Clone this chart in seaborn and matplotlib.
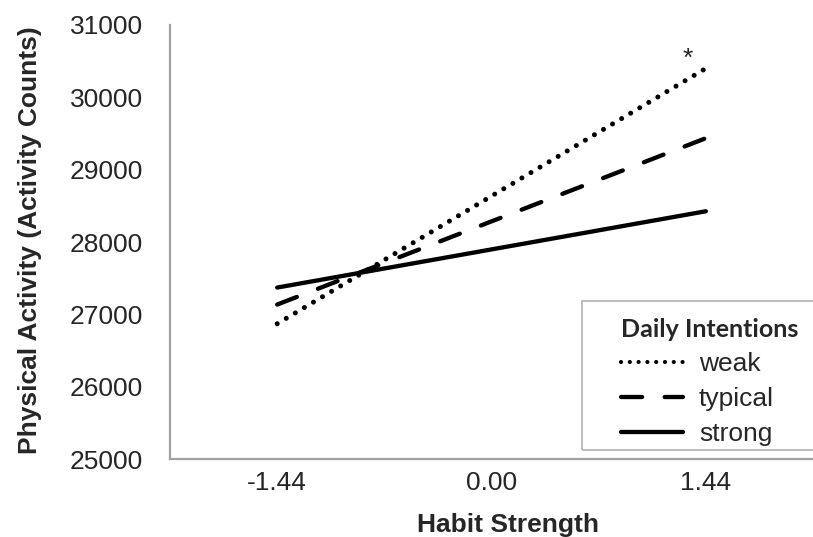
import matplotlib
matplotlib.use("Agg")
import matplotlib.pyplot as plt
from matplotlib.patches import Rectangle
import seaborn as sns
import pandas as pd

# ---- data ----
habit_levels = [-1.44, 1.44]
x_tick_values = [-1.44, 0.00, 1.44]
x_tick_labels = ["-1.44", "0.00", "1.44"]
intentions = ["weak", "typical", "strong"]
weak = [26870, 30400]
typical = [27135, 29435]
strong = [27370, 28425]
y_ticks = [25000, 26000, 27000, 28000, 29000, 30000, 31000]

rows = []
for name, vals in zip(intentions, [weak, typical, strong]):
    for hx, v in zip(habit_levels, vals):
        rows.append({"Habit Strength": hx, "Activity": v, "Intention": name})
df = pd.DataFrame(rows)

sns.set_theme(style="white")
plt.rcParams["font.family"] = ["Liberation Sans", "DejaVu Sans"]

W, H = 813, 537
fig = plt.figure(figsize=(W / 100, H / 100), dpi=100)
ax = fig.add_axes([170 / W, 1 - 459 / H, (W - 170) / W, (459 - 25) / H])

dash_map = {"weak": (0.01, 2.1), "typical": (4.9, 5.25), "strong": ""}
sns.lineplot(data=df, x="Habit Strength", y="Activity", style="Intention",
             style_order=intentions, dashes=dash_map, color="black",
             linewidth=3.1, dash_capstyle="round", solid_capstyle="round",
             legend=False, ax=ax)
ax.lines[0].set_linewidth(3.6)

ax.set_xlim(-2.16, 2.16)
ax.set_ylim(25000, 31000)
ax.set_yticks(y_ticks)
ax.set_yticklabels([str(t) for t in y_ticks])
ax.set_xticks(x_tick_values)
ax.set_xticklabels(x_tick_labels)

for s in ["top", "right"]:
    ax.spines[s].set_visible(False)
for s in ["left", "bottom"]:
    ax.spines[s].set_color("#a0a0a0")
    ax.spines[s].set_linewidth(1.6)

ax.tick_params(axis="y", length=0, pad=19.5, labelsize=19, labelcolor="#262626")
ax.tick_params(axis="x", length=0, pad=9, labelsize=19, labelcolor="#262626")

ax.set_ylabel("Physical Activity (Activity Counts)", fontsize=19,
              fontweight="bold", color="#262626")
ax.yaxis.set_label_coords(-0.199, 0.505)
ax.set_xlabel("Habit Strength", fontsize=19, fontweight="bold",
              color="#262626", va="baseline")
ax.xaxis.set_label_coords(0.526, -0.168)

# significance marker
ax.annotate("*", xy=(habit_levels[1], weak[1]), xytext=(-13, 1.5),
            textcoords="offset points", ha="center", va="baseline",
            fontsize=19, color="#262626")

leg = ax.legend(ax.lines[:3], intentions, title="Daily Intentions",
                loc="upper left", bbox_to_anchor=(621 / W, 1 - 318 / H),
                bbox_transform=fig.transFigure, fontsize=19,
                frameon=False, handlelength=2.35,
                handletextpad=0.6, labelspacing=0.42, borderpad=0.0,
                borderaxespad=0)
leg.get_title().set_fontfamily("Lato")
leg.get_title().set_fontweight("bold")
leg.get_title().set_fontsize(18)
leg._legend_box.align = "left"
for t in leg.get_texts():
    t.set_color("#262626")
leg.get_lines()[0].set_linewidth(3.0)

# legend frame (runs off the right edge as in the original)
fig.patches.append(Rectangle((582 / W, 1 - 450 / H), 0.5, 149 / H,
                             transform=fig.transFigure, fill=False,
                             edgecolor="#b0b0b0", linewidth=1.2, zorder=1))

fig.savefig("out.png", dpi=100)
